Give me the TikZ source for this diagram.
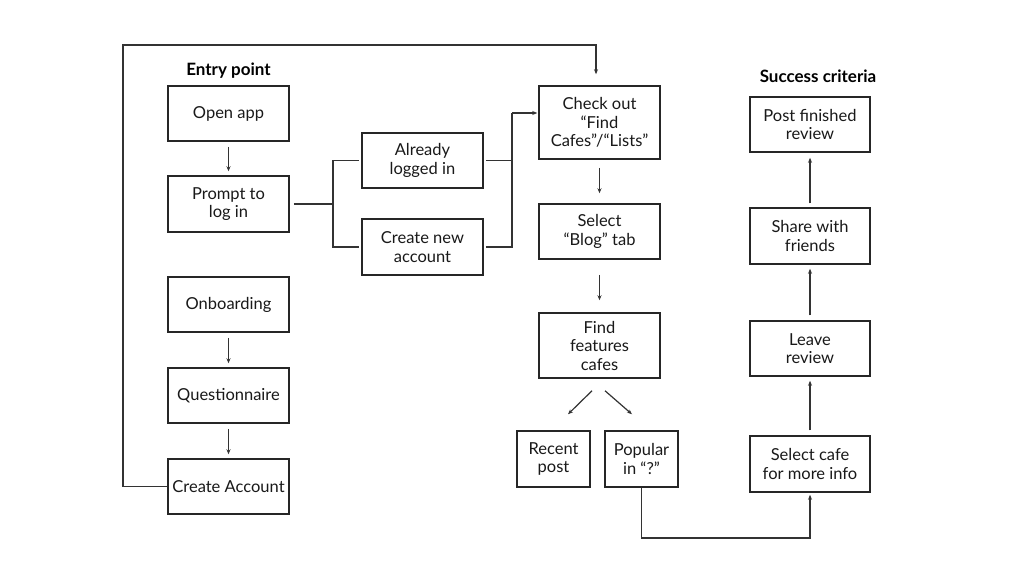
\documentclass[tikz,border=0pt]{standalone}
\usepackage{fontspec}
\setmainfont{Lato}
\usetikzlibrary{arrows.meta,calc}
\begin{document}
\begin{tikzpicture}[x=1pt,y=-1pt,
  box/.style={draw=black!85, line width=1.5pt, inner sep=0pt, align=center,
    font=\fontsize{16.5}{18.5}\selectfont, text=black!90},
  wide/.style={minimum width=121pt},
  narrow/.style={minimum width=73pt},
  conn/.style={draw=black!80, line width=1.2pt},
  arr/.style={conn, -{Stealth[length=5pt,width=4pt]}},
  head/.style={font=\fontsize{17}{20}\selectfont\bfseries, text=black}
]
\useasboundingbox (0,0) rectangle (1024,576);
\fill[white] (0,0) rectangle (1024,576);

\node[head] (entry) at (228.5,71) {Entry point};
\node[head] (success) at (818,76) {Success criteria};

\node[box,wide,minimum height=55pt] (open) at (228.5,113.5) {Open app};
\node[box,wide,minimum height=56pt] (prompt) at (228.5,204) {Prompt to\\log in};
\node[box,wide,minimum height=55pt] (onb) at (228.5,304.5) {Onboarding};
\node[box,wide,minimum height=55pt] (quest) at (228.5,395.5) {Questionnaire};
\node[box,wide,minimum height=55pt] (create) at (228.5,486.5) {Create Account};

\node[box,wide,minimum height=55pt] (already) at (422.5,160.5) {Already\\logged in};
\node[box,wide,minimum height=56pt] (newacc) at (422.5,247) {Create new\\account};

\node[box,wide,minimum height=73pt] (check) at (599.5,122.5) {Check out\\“Find\\Cafes”/“Lists”};
\node[box,wide,minimum height=55pt] (blog) at (599.5,231.5) {Select\\“Blog” tab};
\node[box,wide,minimum height=65pt] (find) at (599.5,345.5) {Find\\features\\cafes};
\node[box,narrow,minimum height=56pt] (recent) at (553.5,459) {Recent\\post};
\node[box,narrow,minimum height=56pt] (popular) at (641.5,459) {Popular\\in “?”};

\node[box,minimum width=120pt,minimum height=55pt] (post) at (810,124.5) {Post finished\\review};
\node[box,minimum width=120pt,minimum height=56pt] (share) at (810,236) {Share with\\friends};
\node[box,minimum width=120pt,minimum height=55pt] (leave) at (810,348.5) {Leave\\review};
\node[box,minimum width=120pt,minimum height=56pt] (selcafe) at (810,464) {Select cafe\\for more info};

% left column
\draw[arr, shorten <=5pt, shorten >=4pt] (open.south) -- (prompt.north);
\draw[arr, shorten <=5pt, shorten >=4pt] (onb.south) -- (quest.north);
\draw[arr, shorten <=5pt, shorten >=4pt] (quest.south) -- (create.north);

% fork from prompt
\coordinate (f1) at (333,204);
\draw[conn, shorten <=4pt] (prompt.east) -- (f1);
\draw[conn, shorten >=2pt] (f1) |- (already.west);
\draw[conn, shorten >=2pt] (f1) |- (newacc.west);

% join into check
\coordinate (f2) at (512,113);
\draw[conn, shorten <=2pt] (already.east) -| (f2);
\draw[conn, shorten <=2pt] (newacc.east) -| (f2);
\draw[arr, shorten >=1pt] (f2) -- (check.west |- f2);

% loop from create account
\draw[arr, shorten >=11pt] (create.west) -- (123,486.5) -- (123,45) -- (596,45) -- (check.north -| 596,0);

% middle column
\draw[arr, shorten <=8pt, shorten >=10pt] (check.south) -- (blog.north);
\draw[arr, shorten <=15pt, shorten >=12pt] (blog.south) -- (find.north);
\draw[arr] ($(find.south)+(-7.5,12)$) -- ($(recent.north)+(14.5,-16)$);
\draw[arr] ($(find.south)+(5.5,12)$) -- ($(popular.north)+(-9.5,-16)$);

% popular to select cafe
\draw[arr, shorten >=2pt] (popular.south) -- (641.5,538) -| (selcafe.south);

% right column
\draw[arr, shorten <=5pt, shorten >=4pt] (selcafe.north) -- (leave.south);
\draw[arr, shorten <=5pt, shorten >=4pt] (leave.north) -- (share.south);
\draw[arr, shorten <=4pt, shorten >=5pt] (share.north) -- (post.south);
\end{tikzpicture}
\end{document}
